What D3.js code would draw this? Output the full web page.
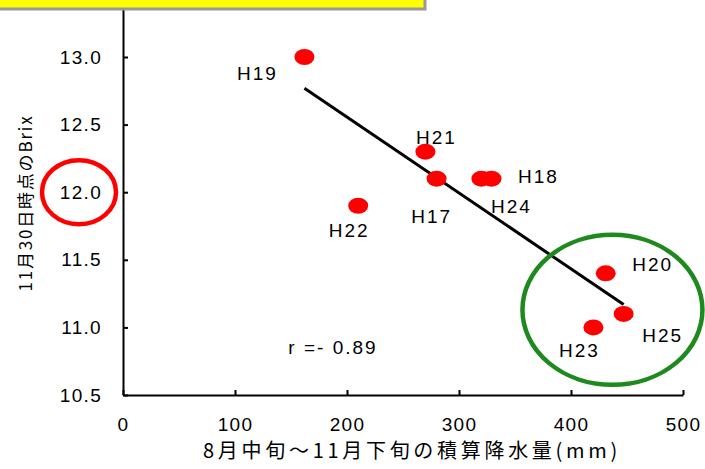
<!DOCTYPE html>
<html>
<head>
<meta charset="utf-8">
<script src="https://cdn.jsdelivr.net/npm/d3@7"></script>
<style>
  body { margin: 0; background: #fff; }
  svg { display: block; }
  .tick text { font-family: "Liberation Sans", Arial, sans-serif; }
</style>
</head>
<body>
<svg id="chart"></svg>
<script>
// data
const years = ['H17', 'H18', 'H19', 'H20', 'H21', 'H22', 'H23', 'H24', 'H25'];
const rainfall = [280, 329, 162, 431, 270, 210, 420, 320, 447];
const brix = [12.1, 12.1, 13.0, 11.4, 12.3, 11.9, 11.0, 12.1, 11.1];
const xTicks = [0, 100, 200, 300, 400, 500];
const yTicks = [10.5, 11.0, 11.5, 12.0, 12.5, 13.0];
const xTitle = '8月中旬～11月下旬の積算降水量(mm)';
const yTitle = '11月30日時点のBrix';
const rText = 'r =- 0.89';

// label offsets from each dot (px)
const labelOffset = {
  H17: [-5, 37], H18: [47, -3], H19: [-47, 16], H20: [47, -9], H21: [11, -14],
  H22: [-9, 24], H23: [-14, 23], H24: [30, 27], H25: [39, 21]
};

const width = 705, height = 469;
const svg = d3.select('#chart').attr('width', width).attr('height', height);

const x = d3.scaleLinear().domain([0, 500]).range([123, 683]);
const y = d3.scaleLinear().domain([10.5, 13.5]).range([395, -10.6]);

const font = '"Liberation Sans", Arial, sans-serif';
const jpFont = '"Noto Sans CJK JP", sans-serif';

// axes
const yAxis = svg.append('g')
  .attr('transform', `translate(${x(0)},0)`)
  .call(d3.axisLeft(y).tickValues(yTicks).tickFormat(d3.format('.1f'))
    .tickSizeInner(-5).tickSizeOuter(0).tickPadding(21));

const xAxis = svg.append('g')
  .attr('transform', `translate(0,${y(10.5)})`)
  .call(d3.axisBottom(x).tickValues(xTicks).tickSizeInner(-5).tickSizeOuter(0).tickPadding(23));

[xAxis, yAxis].forEach(g => {
  g.select('.domain').attr('stroke', '#000').attr('stroke-width', 2);
  g.selectAll('.tick line').attr('stroke', '#000').attr('stroke-width', 2);
  g.selectAll('.tick text')
    .attr('fill', '#000')
    .style('font-size', '19px')
    .style('letter-spacing', '1.3px');
});

// regression line from the data
const mx = d3.mean(rainfall), my = d3.mean(brix);
const sxy = d3.sum(rainfall, (v, i) => (v - mx) * (brix[i] - my));
const sxx = d3.sum(rainfall, v => (v - mx) ** 2);
const slope = sxy / sxx;
const fit = v => my + slope * (v - mx);
const [x0, x1] = d3.extent(rainfall);

svg.append('line')
  .attr('x1', x(x0)).attr('y1', y(fit(x0)))
  .attr('x2', x(x1)).attr('y2', y(fit(x1)))
  .attr('stroke', '#000')
  .attr('stroke-width', 3);

// points
svg.selectAll('.dot')
  .data(years)
  .enter()
  .append('ellipse')
  .attr('class', 'dot')
  .attr('cx', (d, i) => x(rainfall[i]))
  .attr('cy', (d, i) => y(brix[i]))
  .attr('rx', 10)
  .attr('ry', 8)
  .attr('fill', '#ff0000');

svg.selectAll('.lbl')
  .data(years)
  .enter()
  .append('text')
  .attr('class', 'lbl')
  .attr('x', (d, i) => x(rainfall[i]) + labelOffset[d][0])
  .attr('y', (d, i) => y(brix[i]) + labelOffset[d][1])
  .attr('dy', '0.36em')
  .attr('text-anchor', 'middle')
  .style('font-family', font)
  .style('font-size', '19px')
  .style('letter-spacing', '2px')
  .attr('fill', '#000')
  .text(d => d);

svg.append('text')
  .attr('x', 333)
  .attr('y', 347)
  .attr('dy', '0.36em')
  .attr('text-anchor', 'middle')
  .style('font-family', font)
  .style('font-size', '19px')
  .style('letter-spacing', '2px')
  .attr('fill', '#000')
  .text(rText);

// axis titles
svg.append('text')
  .attr('x', 412)
  .attr('y', 451)
  .attr('dy', '0.36em')
  .attr('text-anchor', 'middle')
  .style('font-family', jpFont)
  .style('font-size', '20px')
  .style('letter-spacing', '3.7px')
  .attr('fill', '#000')
  .text(xTitle);

svg.append('text')
  .attr('transform', `translate(26,203) rotate(-90)`)
  .attr('dy', '0.36em')
  .attr('text-anchor', 'middle')
  .style('font-family', jpFont)
  .style('font-size', '17px')
  .style('letter-spacing', '1.8px')
  .attr('fill', '#000')
  .text(yTitle);

// highlight rings
svg.append('ellipse')
  .attr('cx', x(0) - 44)
  .attr('cy', y(12.0))
  .attr('rx', 37)
  .attr('ry', 32)
  .attr('fill', 'none')
  .attr('stroke', '#ff0000')
  .attr('stroke-width', 4.5);

svg.append('ellipse')
  .attr('cx', x(437))
  .attr('cy', y(11.13))
  .attr('rx', 90)
  .attr('ry', 75)
  .attr('fill', 'none')
  .attr('stroke', '#1e8a1e')
  .attr('stroke-width', 4.5);

// yellow banner cut off at the top
svg.append('rect')
  .attr('x', -5)
  .attr('y', -5)
  .attr('width', 430)
  .attr('height', 14)
  .attr('fill', '#ffff00')
  .attr('stroke', '#999')
  .attr('stroke-width', 3);
</script>
</body>
</html>
